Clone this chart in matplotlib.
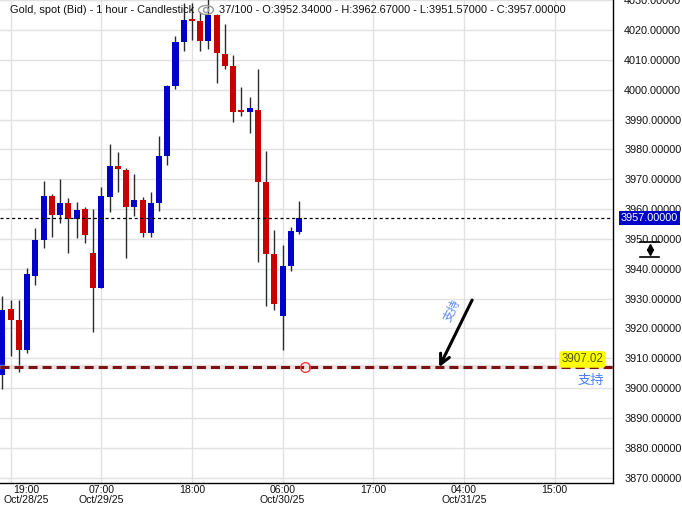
import matplotlib
matplotlib.use('Agg')
import matplotlib.pyplot as plt
from matplotlib.patches import Ellipse
from matplotlib.lines import Line2D
import numpy as np

plt.rcParams['font.family'] = ['Liberation Sans', 'Noto Sans CJK SC', 'DejaVu Sans']
plt.rcParams['lines.scale_dashes'] = False

# OHLC свечи (1 час), с 18:00 Oct/28/25
opens = [3904.5, 3926.5, 3922.8, 3912.8, 3937.6, 3949.6, 3964.4, 3958.1, 3962.0, 3956.6,
         3960.0, 3945.3, 3933.7, 3964.2, 3974.4, 3973.1, 3960.8, 3963.0, 3951.9, 3962.1,
         3977.8, 4001.2, 4016.0, 4023.6, 4023.0, 4016.4, 4025.0, 4012.0, 4007.9, 3993.0,
         3992.6, 3993.2, 3969.1, 3945.0, 3924.0, 3940.9, 3952.34]
highs = [3930.7, 3929.5, 3929.5, 3940.2, 3953.6, 3969.4, 3965.1, 3970.1, 3963.7, 3962.4,
         3960.7, 3960.0, 3967.5, 3981.8, 3979.1, 3973.7, 3971.8, 3964.0, 3965.6, 3984.5,
         4001.5, 4018.0, 4029.2, 4029.2, 4026.0, 4031.0, 4025.3, 4022.0, 4011.6, 4000.8,
         3997.5, 4006.9, 3979.5, 3953.0, 3948.0, 3954.1, 3962.67]
lows = [3899.7, 3910.8, 3905.5, 3911.9, 3934.6, 3947.1, 3950.8, 3955.2, 3945.2, 3950.4,
        3948.7, 3918.9, 3933.7, 3959.1, 3965.8, 3943.7, 3957.7, 3950.8, 3950.8, 3959.5,
        3974.8, 4000.1, 4013.1, 4016.6, 4013.1, 4013.5, 4002.1, 4006.9, 3989.3, 3991.3,
        3985.6, 3942.4, 3927.6, 3926.2, 3912.6, 3939.3, 3951.57]
closes = [3926.2, 3922.8, 3912.8, 3938.3, 3949.6, 3964.4, 3958.1, 3962.0, 3956.6, 3959.7,
          3951.4, 3933.7, 3964.4, 3974.4, 3973.5, 3960.8, 3963.0, 3951.9, 3962.1, 3977.8,
          4001.2, 4016.0, 4023.4, 4023.0, 4016.4, 4025.0, 4012.2, 4008.0, 3992.6, 3992.6,
          3993.9, 3969.2, 3945.0, 3928.2, 3940.9, 3952.7, 3957.00]

tick_pos = [1, 12, 23, 34, 45, 56, 67]
tick_labels = ['19:00\nOct/28/25', '07:00\nOct/29/25', '18:00', '06:00\nOct/30/25',
               '17:00', '04:00\nOct/31/25', '15:00']
support = 3907.02
last_price = closes[-1]

W, H = 682, 505
fig = plt.figure(figsize=(W / 100, H / 100), dpi=100)
ax = fig.add_axes([0, 1 - 483 / H, 613 / W, 483 / H])

x = np.arange(len(opens))
o = np.array(opens); c = np.array(closes)
up = c >= o
colors = np.where(up, '#0000c8', '#c80000')

ax.vlines(x, lows, highs, color='#2b2b2b', lw=1.0, zorder=3)
ax.bar(x, np.maximum(np.abs(c - o), 0.5), bottom=np.minimum(o, c), width=0.73,
       color=colors, zorder=4)

ax.set_xlim(-0.3, 74.1)
ax.set_ylim(3868.2, 4030.05)

ax.set_yticks(np.arange(3870, 4031, 10))
ax.yaxis.set_major_formatter(matplotlib.ticker.FormatStrFormatter('%.5f'))
ax.yaxis.tick_right()
ax.set_xticks(tick_pos)
# первая подпись сдвинута вправо, чтобы не обрезалась
ax.set_xticklabels([''] + tick_labels[1:], linespacing=0.95)
ax.tick_params(axis='y', length=0, pad=8, labelsize=7.8, labelcolor='#111111')
ax.tick_params(axis='x', length=0, pad=1.5, labelsize=7.6, labelcolor='#111111')
ax.text(2.85, -0.004, tick_labels[0], transform=ax.get_xaxis_transform(), ha='center', va='top',
        fontsize=7.6, color='#111111', linespacing=0.95, clip_on=False)
ax.grid(True, color='#e2e2e2', lw=1.0, zorder=0)
ax.set_axisbelow(True)
for s in ['left', 'top']:
    ax.spines[s].set_visible(False)
ax.spines['right'].set_color('black')
ax.spines['bottom'].set_color('black')
ax.spines['right'].set_linewidth(1.0)
ax.spines['bottom'].set_linewidth(1.0)

# текущая цена
ax.axhline(last_price, color='black', lw=0.9, dashes=(2.2, 2.0), zorder=5)
ax.text(1.0125, last_price, f'{last_price:.5f}', transform=ax.get_yaxis_transform(),
        ha='left', va='center', color='white', fontsize=7.8, zorder=10, clip_on=False,
        bbox=dict(boxstyle='square,pad=0.15', facecolor='#0000c8', edgecolor='none'))

# линия поддержки
ax.axhline(support, color='#d9c4c4', lw=3.2, alpha=0.5, zorder=5)
ax.axhline(support, color='#7a1414', lw=2.2, dashes=(6.5, 3.6), zorder=6)
ax.plot([36.7], [support], marker='o', ms=7, mfc='none', mec='#ff3a3a', mew=1.0, zorder=7)
ax.text(70.4, support + 2.6, f'{support:.2f}', ha='center', va='center', fontsize=8.4,
        color='#4a5a00', zorder=8,
        bbox=dict(boxstyle='round,pad=0.2,rounding_size=0.3', facecolor='#ffff00', edgecolor='none'))
ax.text(71.4, support - 4.7, '支持', ha='center', va='center', fontsize=9.5,
        color='#4a7aff', zorder=8)

# стрелка
ax.annotate('', xy=(53.0, support), xytext=(57.0, 3929.5),
            arrowprops=dict(arrowstyle='->,head_length=0.7,head_width=0.35', color='black',
                            lw=2.2, shrinkA=0, shrinkB=0), zorder=8)
ax.text(54.6, 3925.9, '支持', rotation=63, ha='center', va='center', fontsize=8.5,
        color='#5a88ff', zorder=8)

# заголовок
fig.text(10 / W, 1 - 10 / H, 'Gold, spot (Bid) - 1 hour - Candlestick', ha='left', va='center',
         fontsize=7.95, color='#111111', zorder=2)
fig.text(219 / W, 1 - 10 / H,
         f'37/100 - O:{opens[-1]:.5f} - H:{highs[-1]:.5f} - L:{lows[-1]:.5f} - C:{closes[-1]:.5f}',
         ha='left', va='center', fontsize=7.95, color='#111111', zorder=2)
fig.add_artist(Ellipse((206 / W, 1 - 10 / H), 15 / W, 9 / H, transform=fig.transFigure,
                       facecolor='none', edgecolor='#999999', lw=1.0))
fig.add_artist(Ellipse((206 / W, 1 - 10 / H), 5 / W, 5 / H, transform=fig.transFigure,
                       facecolor='none', edgecolor='#999999', lw=1.0))

# значок масштабирования на оси
for yy in (242, 257):
    fig.add_artist(Line2D([640 / W, 659 / W], [1 - yy / H, 1 - yy / H], color='black', lw=1.2,
                          transform=fig.transFigure))
fig.add_artist(Line2D([649.5 / W], [1 - 247 / H], marker='^', ms=4, color='black', lw=0,
                      transform=fig.transFigure))
fig.add_artist(Line2D([649.5 / W], [1 - 252 / H], marker='v', ms=4, color='black', lw=0,
                      transform=fig.transFigure))

fig.savefig('out.png', dpi=100)
